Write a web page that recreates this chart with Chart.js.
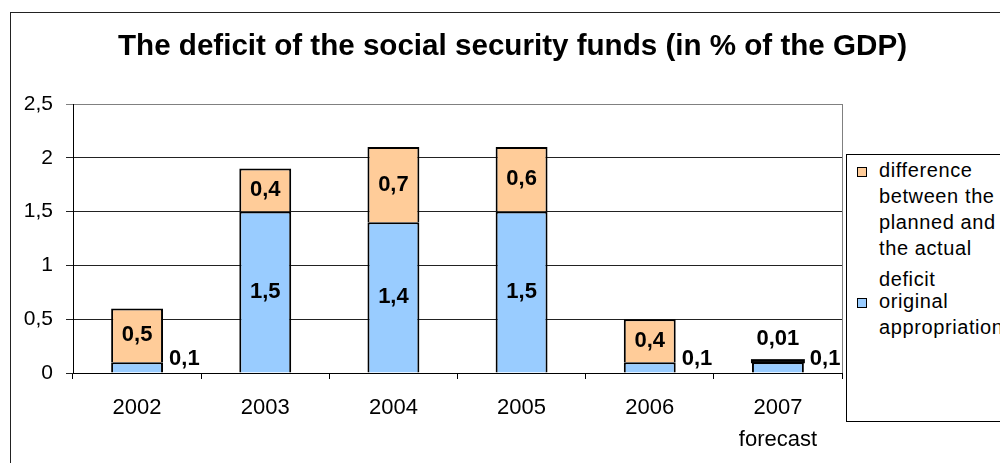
<!DOCTYPE html>
<html>
<head>
<meta charset="utf-8">
<script src="https://cdn.jsdelivr.net/npm/chart.js@4"></script>
<style>
  html, body { margin: 0; padding: 0; background: #fff; overflow: hidden; }
  body { width: 1000px; height: 463px; position: relative; font-family: "Liberation Sans", Arial, sans-serif; }
  #frame { position: absolute; left: 10px; top: 12px; width: 1100px; height: 600px; border: 1px solid #222; }
  #wrap { position: absolute; left: 0; top: 0; width: 1000px; height: 463px; }
  #legend { position: absolute; left: 846px; top: 154px; width: 200px; height: 266px; border: 1px solid #000; background: #fff; }
  .sw { position: absolute; left: 10px; width: 8px; height: 8px; border: 1px solid #000; }
  .txt { position: absolute; left: 32px; font-size: 20px; line-height: 26px; letter-spacing: 0.6px; color: #000; white-space: nowrap; }
</style>
</head>
<body>
<div id="frame"></div>
<div id="wrap"><canvas id="deficitChart" width="1000" height="463"></canvas></div>
<div id="legend">
  <div class="sw" style="top:12px; background:#FFCC99"></div>
  <div class="txt" style="top:2px">difference<br>between the<br>planned and<br>the actual</div>
  <div class="txt" style="top:111px">deficit</div>
  <div class="sw" style="top:143px; background:#99CCFF"></div>
  <div class="txt" style="top:133px">original<br>appropriation</div>
</div>
<script>
// Deficit of the social security funds, % of GDP
const titleText = 'The deficit of the social security funds (in % of the GDP)';
const years = [['2002'], ['2003'], ['2004'], ['2005'], ['2006'], ['2007', 'forecast']];
const originalAppropriation = [0.1, 1.5, 1.4, 1.5, 0.1, 0.1];
const plannedActualDiff = [0.5, 0.4, 0.7, 0.6, 0.4, 0.01];
const yTickValues = [0, 0.5, 1, 1.5, 2, 2.5];

const fmt = v => String(v).replace('.', ',');

// title, plot frame and value labels
const extras = {
  id: 'extras',
  beforeDraw(chart) {
    const ctx = chart.ctx;
    ctx.save();
    ctx.fillStyle = '#000';
    ctx.font = 'bold 30px "Liberation Sans", Arial, sans-serif';
    ctx.textAlign = 'center';
    ctx.textBaseline = 'alphabetic';
    ctx.fillText(titleText, 512.5, 55, 789);
    ctx.restore();
  },
  afterDraw(chart) {
    const ctx = chart.ctx;
    const a = chart.chartArea;
    ctx.save();
    ctx.strokeStyle = '#808080';
    ctx.lineWidth = 1;
    ctx.beginPath();
    ctx.moveTo(Math.round(a.right) + 0.5, a.top);
    ctx.lineTo(Math.round(a.right) + 0.5, a.bottom);
    ctx.stroke();
    ctx.restore();
  },
  afterDatasetsDraw(chart) {
    const ctx = chart.ctx;
    ctx.save();
    ctx.fillStyle = '#000';
    ctx.font = 'bold 22px "Liberation Sans", Arial, sans-serif';
    ctx.textBaseline = 'middle';
    chart.data.datasets.forEach((ds, di) => {
      const meta = chart.getDatasetMeta(di);
      meta.data.forEach((bar, i) => {
        const p = bar.getProps(['x', 'y', 'base', 'width'], true);
        const v = ds.data[i];
        const h = p.base - p.y;
        if (h < 5) {
          // very thin segment: outline it so it still reads as a stroke
          ctx.lineWidth = 2;
          ctx.strokeStyle = '#000';
          ctx.strokeRect(p.x - p.width / 2, p.y - 1, p.width, h + 1);
        }
        if (h > 30) {
          ctx.textAlign = 'center';
          ctx.fillText(fmt(v), p.x, (p.y + p.base) / 2);
        } else if (di === 0) {
          ctx.textAlign = 'left';
          ctx.fillText(fmt(v), p.x + p.width / 2 + 6, (p.y + p.base) / 2 - 8);
        } else {
          ctx.textAlign = 'center';
          ctx.fillText(fmt(v), p.x, p.y - 22);
        }
      });
    });
    ctx.restore();
  }
};

new Chart(document.getElementById('deficitChart'), {
  type: 'bar',
  data: {
    labels: years,
    datasets: [
      {
        label: 'original appropriation',
        data: originalAppropriation,
        backgroundColor: '#99CCFF',
        borderColor: '#000',
        borderWidth: 2
      },
      {
        label: 'difference between the planned and the actual deficit',
        data: plannedActualDiff,
        backgroundColor: '#FFCC99',
        borderColor: '#000',
        borderWidth: 2
      }
    ]
  },
  options: {
    responsive: false,
    animation: false,
    events: [],
    layout: { padding: { left: 0, top: 104, right: 158, bottom: 0 } },
    categoryPercentage: 1,
    barPercentage: 0.405,
    plugins: {
      legend: { display: false },
      title: { display: false },
      tooltip: { enabled: false }
    },
    scales: {
      x: {
        stacked: true,
        afterFit(scale) { scale.height = 90; },
        border: { color: '#000', width: 1 },
        grid: { offset: true, drawOnChartArea: false, drawTicks: true, tickLength: 6, color: '#000' },
        ticks: {
          color: '#000',
          padding: 13,
          font: { family: '"Liberation Sans", Arial, sans-serif', size: 22, lineHeight: 1.45 }
        }
      },
      y: {
        stacked: true,
        min: 0,
        max: 2.5,
        afterFit(scale) { scale.width = 73; },
        afterBuildTicks(scale) { scale.ticks = yTickValues.map(v => ({ value: v })); },
        border: { color: '#000', width: 1 },
        grid: {
          tickLength: 7,
          color: c => (c.tick && c.tick.value === 2.5) ? '#808080' : '#222',
          lineWidth: 1
        },
        ticks: {
          color: '#000',
          padding: 13,
          callback: v => fmt(v),
          font: { family: '"Liberation Sans", Arial, sans-serif', size: 21 }
        }
      }
    }
  },
  plugins: [extras]
});
</script>
</body>
</html>
